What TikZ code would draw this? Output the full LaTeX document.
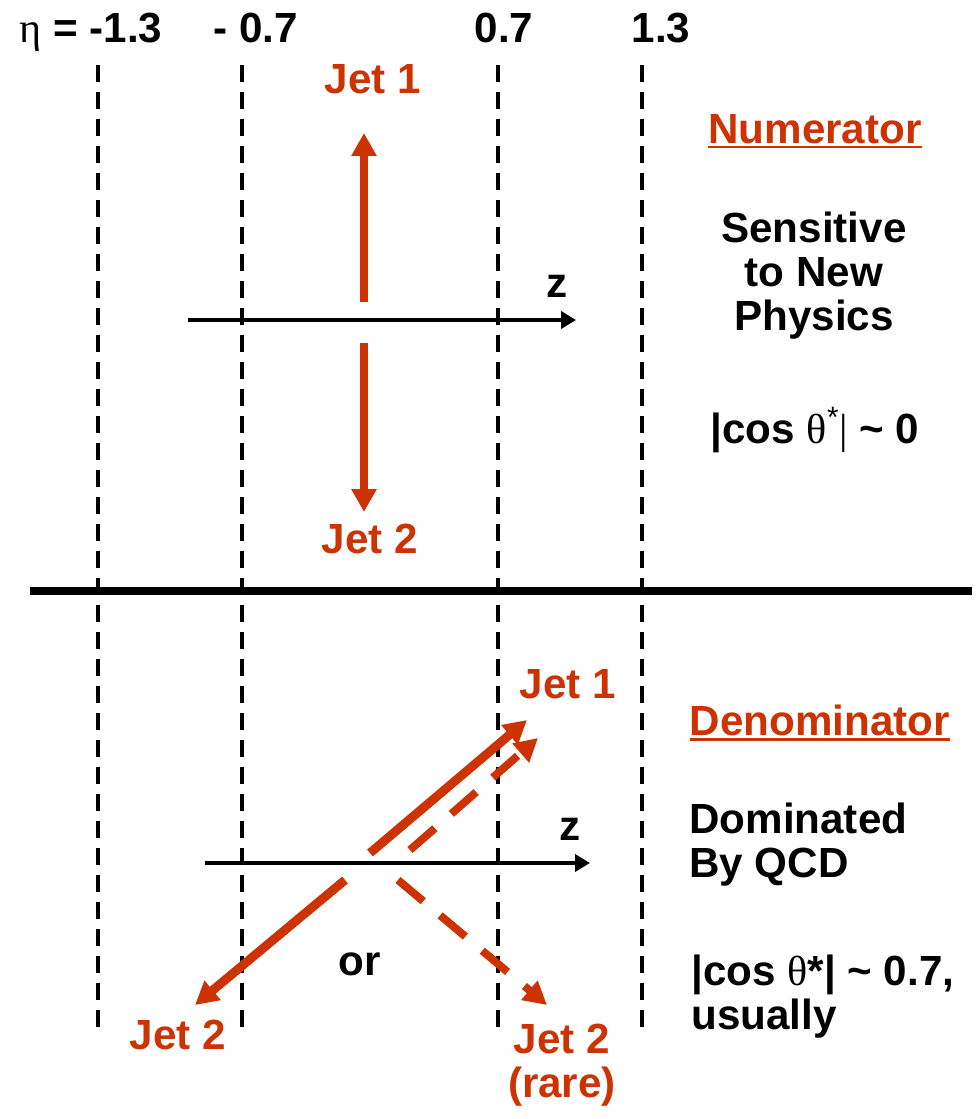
\documentclass[tikz,border=0pt]{standalone}
\usepackage{fontspec}
\setmainfont{Liberation Sans}
\newfontfamily\grk{Liberation Serif}
\usetikzlibrary{arrows.meta}
\definecolor{jetred}{HTML}{CC3300}

\begin{document}
\begin{tikzpicture}[x=0.02cm,y=-0.02cm,
  lbl/.style={font=\fontsize{24}{25}\selectfont\bfseries,inner sep=0pt,anchor=base},
  jet/.style={jetred,line width=5.1pt,-{Triangle[length=0.46cm,width=0.48cm]}},
  jetdash/.style={jetred,line width=4.5pt,dash pattern=on 0.66cm off 0.44cm,-{Triangle[length=0.46cm,width=0.48cm]}},
  axis/.style={line width=2.3pt,-{Triangle[length=0.3cm,width=0.34cm]}},
  etaline/.style={line width=2.6pt,dash pattern=on 0.34cm off 0.2cm}]
  % picture is laid out in pixels of the 979x1119 frame
  \useasboundingbox (0,0) rectangle (979,1119);
  \def\xA{98}\def\xB{242}\def\xC{498}\def\xD{642}

  % eta boundaries
  \foreach \ex in {\xA,\xB,\xC,\xD}
    \draw[etaline] (\ex,65) -- (\ex,1028);
  \node[lbl] (etaA) at (91,42) {{\grk\mdseries η} = -1.3};
  \node[lbl] (etaB) at (256,42) {- 0.7};
  \node[lbl] (etaC) at (504,42) {0.7};
  \node[lbl] (etaD) at (661,42) {1.3};

  % separator
  \draw[line width=4.5pt] (30,591) -- (972,591);

  % numerator: back-to-back jets at 90 degrees
  \coordinate (zA) at (188,320);
  \coordinate (zB) at (576,320);
  \draw[axis] (zA) -- (zB);
  \node[lbl] (zTop) at (557,297) {z};
  \coordinate (o1u) at (364,302);
  \coordinate (j1u) at (364,133);
  \coordinate (o1d) at (364,343);
  \coordinate (j2d) at (364,512);
  \draw[jet] (o1u) -- (j1u);
  \draw[jet] (o1d) -- (j2d);
  \node[lbl,jetred] (jetA) at (373,93) {Jet 1};
  \node[lbl,jetred] (jetB) at (370,553) {Jet 2};

  \node[lbl,jetred] (num) at (815,143) {Numerator};
  \draw[jetred,line width=1.7pt] ([yshift=-0.08cm]num.base west) -- ([yshift=-0.08cm]num.base east);
  % base of a multi-line node is its last line
  \node[lbl,align=center] (sens) at (814,330) {Sensitive\\to New\\Physics};
  \node[lbl] (cosA) at (815,443) {|cos {\grk\mdseries θ}\textsuperscript{\mdseries *}{\grk\mdseries |} \textasciitilde\ 0};

  % denominator: forward jets
  \coordinate (zC) at (205,863);
  \coordinate (zD) at (590,863);
  \draw[axis] (zC) -- (zD);
  \node[lbl] (zBot) at (570,840) {z};
  \coordinate (o2a) at (370,853);
  \coordinate (j1b) at (527,720);
  \coordinate (o2b) at (410,850);
  \coordinate (j1c) at (538,738);
  \coordinate (o2c) at (345,880);
  \coordinate (j2b) at (195,1005);
  \coordinate (o2d) at (398,880);
  \coordinate (j2c) at (547,1005);
  \draw[jet] (o2a) -- (j1b);
  \draw[jetdash] (o2b) -- (j1c);
  \draw[jet] (o2c) -- (j2b);
  \draw[jetdash] (o2d) -- (j2c);
  \node[lbl,jetred] (jetC) at (568,698) {Jet 1};
  \node[lbl,jetred] (jetD) at (178,1049) {Jet 2};
  \node[lbl,jetred,align=center] (jetE) at (562,1097) {Jet 2\\(rare)};
  \node[lbl] (or) at (360,975) {or};

  \node[lbl,jetred] (den) at (820,735) {Denominator};
  \draw[jetred,line width=1.7pt] ([yshift=-0.08cm]den.base west) -- ([yshift=-0.08cm]den.base east);
  \node[lbl,align=left,anchor=base west] (dom) at (689,877) {Dominated\\By QCD};
  \node[lbl,align=left,anchor=base west] (cosB) at (691,1029) {|cos {\grk\mdseries θ}*| \textasciitilde\ 0.7,\\usually};
\end{tikzpicture}
\end{document}
